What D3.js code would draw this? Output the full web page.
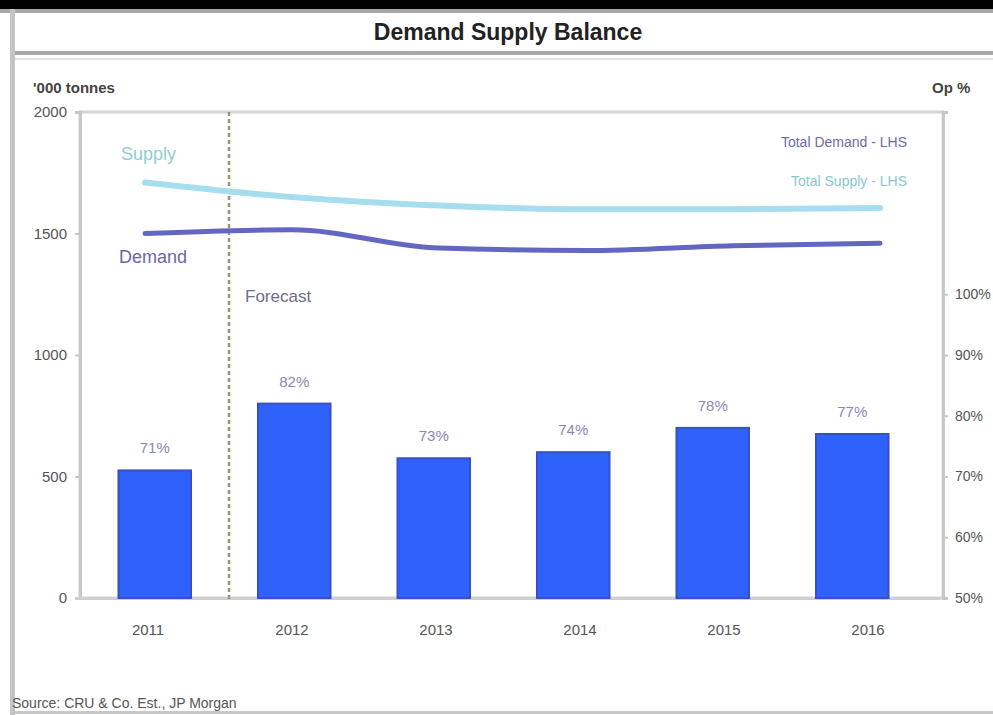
<!DOCTYPE html>
<html>
<head>
<meta charset="utf-8">
<script src="https://cdn.jsdelivr.net/npm/d3@7/dist/d3.min.js"></script>
<style>
  html, body { margin: 0; padding: 0; background: #fff; }
  svg { display: block; font-family: "Liberation Sans", Arial, sans-serif; }
</style>
</head>
<body>
<svg id="chart" width="993" height="715"></svg>
<script>
// Years on the category axis
const years = ["2011", "2012", "2013", "2014", "2015", "2016"];
// Supply and demand, '000 tonnes (left axis)
const supply = [1710, 1650, 1615, 1600, 1600, 1605];
const demand = [1500, 1515, 1440, 1430, 1450, 1460];
// Operating rate, % (right axis, bars)
const opRate = [71, 82, 73, 74, 78, 77];
// Axis ticks
const leftTicks = [0, 500, 1000, 1500, 2000];
const rightTicks = [50, 60, 70, 80, 90, 100];
// Last actual year; forecasts start after it
const forecastFrom = "2011";

const svg = d3.select("#chart");

// Frame of the exhibit
svg.append("rect").attr("x", 0).attr("y", 0).attr("width", 993).attr("height", 9).attr("fill", "#000");
svg.append("rect").attr("x", 0).attr("y", 9).attr("width", 993).attr("height", 4).attr("fill", "#a8a8a8");
svg.append("rect").attr("x", 10).attr("y", 9).attr("width", 5).attr("height", 706).attr("fill", "#c4c4c4");
svg.append("rect").attr("x", 15).attr("y", 51).attr("width", 978).attr("height", 4).attr("fill", "#a8a8a8");
svg.append("rect").attr("x", 15).attr("y", 58).attr("width", 978).attr("height", 2).attr("fill", "#e2e2e2");
svg.append("rect").attr("x", 15).attr("y", 711).attr("width", 978).attr("height", 3).attr("fill", "#c8c8c8");

svg.append("text")
  .attr("x", 508).attr("y", 40)
  .attr("text-anchor", "middle")
  .attr("font-size", 23).attr("font-weight", "bold").attr("fill", "#222")
  .text("Demand Supply Balance");

// Scales
const plotTop = 112, plotBottom = 598, plotLeft = 80, plotRight = 943;
const yLeft = d3.scaleLinear().domain([0, 2000]).range([plotBottom, plotTop]);
const yRight = d3.scaleLinear().domain([50, 130]).range([plotBottom, plotTop]);
const xAxisScale = d3.scaleBand().domain(years).range([76, 940]);
const xBar = d3.scaleBand().domain(years).range([85, 922]).paddingInner(0.48).paddingOuter(0.24);
const xLine = d3.scalePoint().domain(years).range([145, 880]);

// Plot frame
svg.append("rect")
  .attr("x", plotLeft).attr("y", plotTop)
  .attr("width", plotRight - plotLeft).attr("height", plotBottom - plotTop)
  .attr("fill", "#fff").attr("stroke", "#d4d4d4").attr("stroke-width", 3);

// Left axis
const gLeft = svg.append("g").attr("transform", `translate(${plotLeft},0)`)
  .call(d3.axisLeft(yLeft).tickValues(leftTicks).tickSize(5).tickPadding(8).tickFormat(d3.format("d")));
gLeft.select(".domain").attr("stroke", "#c8c8c8").attr("stroke-width", 3);
gLeft.selectAll(".tick line").attr("stroke", "#c8c8c8").attr("stroke-width", 2);
gLeft.selectAll(".tick text").attr("font-size", 15).attr("fill", "#555")
  .attr("font-family", "Liberation Sans, Arial, sans-serif");

// Right axis
const gRight = svg.append("g").attr("transform", `translate(${plotRight},0)`)
  .call(d3.axisRight(yRight).tickValues(rightTicks).tickSize(5).tickPadding(7).tickFormat(d => d + "%"));
gRight.select(".domain").attr("stroke", "#c8c8c8").attr("stroke-width", 3);
gRight.selectAll(".tick line").attr("stroke", "#c8c8c8").attr("stroke-width", 2);
gRight.selectAll(".tick text").attr("font-size", 14).attr("fill", "#555")
  .attr("font-family", "Liberation Sans, Arial, sans-serif");

// Category axis
const gBottom = svg.append("g").attr("transform", `translate(0,${plotBottom})`)
  .call(d3.axisBottom(xAxisScale).tickSize(0).tickPadding(26));
gBottom.select(".domain").attr("stroke", "#cfcfcf").attr("stroke-width", 3);
gBottom.selectAll(".tick text").attr("font-size", 15).attr("fill", "#555")
  .attr("font-family", "Liberation Sans, Arial, sans-serif");

// Axis units
svg.append("text").attr("x", 33).attr("y", 93)
  .attr("font-size", 15).attr("font-weight", "bold").attr("fill", "#444")
  .text("'000 tonnes");
svg.append("text").attr("x", 932).attr("y", 93)
  .attr("font-size", 15).attr("font-weight", "bold").attr("fill", "#444")
  .text("Op %");

// Operating rate bars
svg.append("g").selectAll("rect")
  .data(years.map((y, i) => ({ year: y, v: opRate[i] })))
  .join("rect")
  .attr("x", d => xBar(d.year))
  .attr("y", d => yRight(d.v))
  .attr("width", xBar.bandwidth())
  .attr("height", d => yRight(50) - yRight(d.v))
  .attr("fill", "#2f62fb")
  .attr("stroke", "#3a4fc4").attr("stroke-width", 2);

svg.append("g").selectAll("text")
  .data(years.map((y, i) => ({ year: y, v: opRate[i] })))
  .join("text")
  .attr("x", d => xBar(d.year) + xBar.bandwidth() / 2)
  .attr("y", d => yRight(d.v) - 17)
  .attr("text-anchor", "middle")
  .attr("font-size", 15).attr("fill", "#8a88b4")
  .text(d => d.v + "%");

// Forecast divider
const fx = xAxisScale(forecastFrom) + xAxisScale.bandwidth() + 9;
svg.append("line")
  .attr("x1", fx).attr("x2", fx)
  .attr("y1", plotTop).attr("y2", plotBottom + 2)
  .attr("stroke", "#9c9578").attr("stroke-width", 2.5).attr("stroke-dasharray", "4,3");
svg.append("text").attr("x", fx + 16).attr("y", 302)
  .attr("font-size", 17).attr("fill", "#6e6e88")
  .text("Forecast");

// Supply and demand lines
const line = d3.line()
  .x((d, i) => xLine(years[i]))
  .y(d => yLeft(d))
  .curve(d3.curveMonotoneX);

svg.append("path").datum(supply)
  .attr("d", line).attr("fill", "none")
  .attr("stroke", "#a6def0").attr("stroke-width", 6).attr("stroke-linecap", "round");
svg.append("path").datum(demand)
  .attr("d", line).attr("fill", "none")
  .attr("stroke", "#6467c2").attr("stroke-width", 5).attr("stroke-linecap", "round");

// Series labels
svg.append("text").attr("x", 121).attr("y", 160)
  .attr("font-size", 18).attr("fill", "#8ecfd2").text("Supply");
svg.append("text").attr("x", 119).attr("y", 263)
  .attr("font-size", 18).attr("fill", "#6a66aa").text("Demand");

// Legend
svg.append("text").attr("x", 907).attr("y", 147).attr("text-anchor", "end")
  .attr("font-size", 14).attr("fill", "#6e6ca6").text("Total Demand - LHS");
svg.append("text").attr("x", 907).attr("y", 186).attr("text-anchor", "end")
  .attr("font-size", 14).attr("fill", "#88c8cc").text("Total Supply - LHS");

// Source
svg.append("text").attr("x", 12).attr("y", 708)
  .attr("font-size", 14).attr("fill", "#555")
  .text("Source: CRU & Co. Est., JP Morgan");
</script>
</body>
</html>
